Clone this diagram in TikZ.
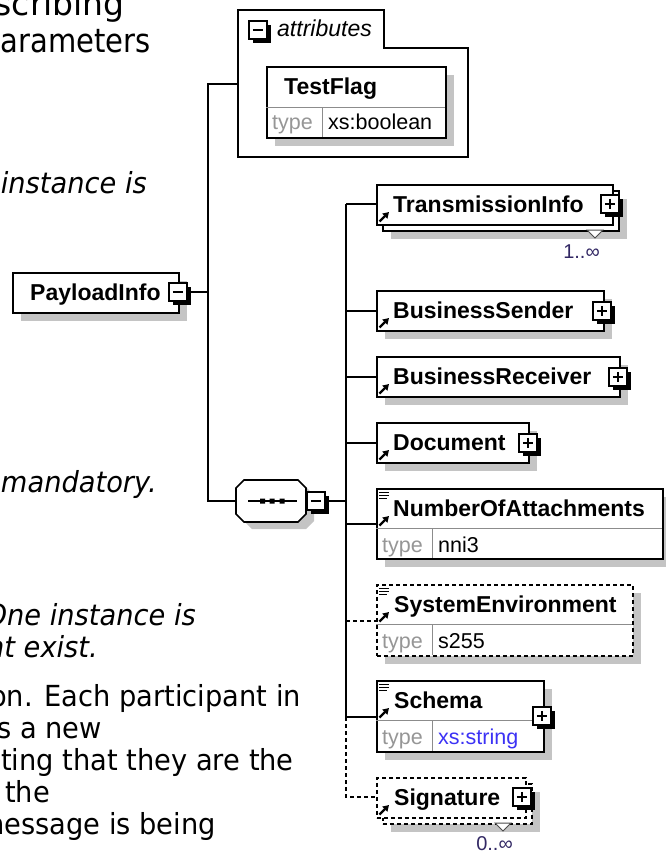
\documentclass[tikz,border=0pt]{standalone}
\usepackage{fontspec}
\setmainfont{DejaVu Sans}
\newfontfamily\bodyfont[FakeStretch=0.94]{DejaVu Sans}
\newfontfamily\headfont[FakeStretch=0.88]{DejaVu Sans}
\newfontfamily\headwide{DejaVu Sans}
\newfontfamily\labfont{Liberation Sans}
\usetikzlibrary{shadows,arrows.meta}
\definecolor{shgray}{RGB}{196,196,196}
\definecolor{typegray}{RGB}{150,150,150}
\definecolor{occcol}{RGB}{50,40,100}
\definecolor{strblue}{RGB}{60,50,245}
\definecolor{divgray}{RGB}{140,140,140}
\tikzset{
  body/.style={font=\bodyfont\fontsize{29bp}{34bp}\selectfont, anchor=base east, inner sep=0pt},
  bodyit/.style={font=\bodyfont\itshape\fontsize{29bp}{34bp}\selectfont, anchor=base east, inner sep=0pt},
  head/.style={font=\headfont\fontsize{33bp}{38bp}\selectfont, anchor=base east, inner sep=0pt},
  headw/.style={font=\headwide\fontsize{33bp}{38bp}\selectfont, anchor=base east, inner sep=0pt},
  elname/.style={font=\labfont\bfseries\fontsize{23bp}{27bp}\selectfont, anchor=base west, inner sep=0pt},
  grpname/.style={font=\labfont\itshape\fontsize{23bp}{27bp}\selectfont, anchor=base west, inner sep=0pt},
  rowtxt/.style={font=\labfont\fontsize{21.5bp}{25bp}\selectfont, anchor=base west, inner sep=0pt},
  typetxt/.style={rowtxt, text=typegray},
  occtxt/.style={font=\labfont\fontsize{20bp}{24bp}\selectfont, anchor=base east, inner sep=0pt, text=occcol},
  elbox/.style={draw, fill=white, line width=1.6bp, rectangle, inner sep=0pt, anchor=north west},
  optbox/.style={elbox, dash pattern=on 4bp off 3bp},
  shad/.style={drop shadow={shadow xshift=8bp, shadow yshift=-8bp, fill=shgray, opacity=1}},
  pm/.style={draw, fill=white, line width=1.6bp, minimum size=18bp, inner sep=0pt, anchor=north west,
    drop shadow={shadow xshift=4bp, shadow yshift=-4bp, fill=black, opacity=1}},
  minusbox/.style={pm, path picture={\draw[line width=1.4bp] ([xshift=4bp]path picture bounding box.west) -- ([xshift=-4bp]path picture bounding box.east);}},
  plusbox/.style={pm, path picture={\draw[line width=1.4bp] ([xshift=4bp]path picture bounding box.west) -- ([xshift=-4bp]path picture bounding box.east) ([yshift=-4bp]path picture bounding box.north) -- ([yshift=4bp]path picture bounding box.south);}},
  conn/.style={line width=1.6bp},
  dconn/.style={line width=1.6bp, dash pattern=on 4bp off 3bp},
  elarrow/.style={line width=2.2bp, -{Triangle[length=6bp,width=7bp]}},
  divider/.style={draw=divgray, line width=1bp},
  occtri/.style={draw=black!70, fill=white, line width=1bp},
  lines3/.style={line width=1bp}
}
\begin{document}
\begin{tikzpicture}[x=1bp,y=-1bp]
\useasboundingbox (0,0) rectangle (666,853);
\clip (0,0) rectangle (666,853);

% ---------- left text ----------
\node[headw] (h1) at (125,15) {scribing};
\node[head] (h2) at (151,52) {arameters};
\node[bodyit] (t3) at (147,193) {instance is};
\node[bodyit] (t4) at (157,492) {mandatory.};
\node[bodyit] (t5) at (196,625) {One instance is};
\node[bodyit] (t6) at (98,657) {nt exist.};
\node[body] (t7) at (301,706) {on. Each participant in};
\node[body] (t8) at (102,738) {s a new};
\node[body, anchor=base west] (t9) at (1,770) {ting that they are the};
\node[body] (t10) at (50,802) {the};
\node[body] (t11) at (216,834) {nessage is being};

% ---------- attributes group ----------
\draw[line width=1.6bp, fill=white] (238,10) -- (384,10) -- (384,48) -- (468,48) -- (468,157) -- (238,157) -- cycle;
\coordinate (attrW) at (238,84);
\node[minusbox] (attrpm) at (248,20) {};
\node[grpname] (attrlbl) at (277,36) {attributes};

\node[elbox, shad, minimum width=179bp, minimum height=71bp] (tf) at (266,66) {};
\draw[divider] (266,107) -- (445,107) (322,107) -- (322,137);
\node[elname] (tflbl) at (284,94) {TestFlag};
\node[typetxt] (tftype) at (272,129) {type};
\node[rowtxt] (tfval) at (328,129) {xs:boolean};

% ---------- PayloadInfo ----------
\node[elbox, shad, minimum width=166bp, minimum height=40bp] (pl) at (12,272) {};
\node[elname] (pllbl) at (30,300) {PayloadInfo};
\node[minusbox] (plpm) at (168,282) {};

% ---------- sequence compositor ----------
\fill[shgray] (252,487) -- (306,487) -- (314,495) -- (314,521) -- (306,529) -- (252,529) -- (244,521) -- (244,495) -- cycle;
\draw[conn, fill=white] (244,480) -- (298,480) -- (306,488) -- (306,514) -- (298,522) -- (244,522) -- (236,514) -- (236,488) -- cycle;
\node[inner sep=0pt, minimum width=70bp, minimum height=42bp, anchor=north west] (comp) at (236,480) {};
\draw[conn] (248,501) -- (297,501);
\fill (260,498.5) rectangle (265,503.5) (269.5,498.5) rectangle (274.5,503.5) (279.5,498.5) rectangle (284.5,503.5);
\node[minusbox] (comppm) at (306,491) {};

% ---------- left connectors ----------
\coordinate (barA1) at (208,84);
\coordinate (barA2) at (208,501);
\draw[conn] (plpm.east) -- (plpm.east -| barA1);
\draw[conn] (attrW) -- (barA1) -- (barA2) -- (comp.west |- barA2);

% ---------- main bar ----------
\coordinate (barTop) at (346,204);
\coordinate (barSol) at (346,717);
\coordinate (barEnd) at (346,797);
\coordinate (jNoa) at (346,524);
\coordinate (jSe) at (346,621);
\draw[conn] (comppm.east) -- (comppm.east -| barTop);
\draw[conn] (barTop) -- (barSol);

% ---------- TransmissionInfo ----------
\node[elbox, shad, minimum width=236bp, minimum height=40bp] (tiB) at (382,190) {};
\node[elbox, minimum width=236bp, minimum height=40bp] (tiF) at (376,184) {};
\node[elname] (tilbl) at (393,212) {TransmissionInfo};
\node[plusbox] (tipm) at (600,194) {};
\draw[elarrow] (379.5,221.5) -- (389,212);
\draw[occtri] (587,230) -- (603,230) -- (595,238) -- cycle;
\node[occtxt] (tiocc) at (600,258) {1..∞};
\draw[conn] (barTop) -- (barTop -| tiF.west);

% ---------- BusinessSender ----------
\node[elbox, shad, minimum width=227bp, minimum height=40bp] (bs) at (376,290) {};
\node[elname] (bslbl) at (393,318) {BusinessSender};
\node[plusbox] (bspm) at (592,301) {};
\draw[elarrow] (379.5,327.5) -- (389,318);
\draw[conn] (bs.west -| barTop) -- (bs.west);

% ---------- BusinessReceiver ----------
\node[elbox, shad, minimum width=243bp, minimum height=40bp] (br) at (376,356) {};
\node[elname] (brlbl) at (393,384) {BusinessReceiver};
\node[plusbox] (brpm) at (608,367) {};
\draw[elarrow] (379.5,393.5) -- (389,384);
\draw[conn] (br.west -| barTop) -- (br.west);

% ---------- Document ----------
\node[elbox, shad, minimum width=152bp, minimum height=40bp] (doc) at (376,422) {};
\node[elname] (doclbl) at (393,450) {Document};
\node[plusbox] (docpm) at (518,433) {};
\draw[elarrow] (379.5,459.5) -- (389,450);
\draw[conn] (doc.west -| barTop) -- (doc.west);

% ---------- NumberOfAttachments ----------
\node[elbox, shad, minimum width=286bp, minimum height=70bp] (noa) at (376,488) {};
\draw[divider] (376,528) -- (662,528) (432,528) -- (432,558);
\draw[lines3] (379,492.5) -- (389,492.5) (379,495.5) -- (389,495.5) (379,498.5) -- (387,498.5);
\node[elname] (noalbl) at (393,516) {NumberOfAttachments};
\draw[elarrow] (379.5,525.5) -- (389,516);
\node[typetxt] (noatype) at (382,552) {type};
\node[rowtxt] (noaval) at (438,552) {nni3};
\draw[conn] (jNoa) -- (jNoa -| noa.west);

% ---------- SystemEnvironment ----------
\node[optbox, shad, minimum width=256bp, minimum height=71bp] (se) at (376,584) {};
\draw[divider] (376,624) -- (632,624) (432,624) -- (432,655);
\draw[lines3] (379,588.5) -- (389,588.5) (379,591.5) -- (389,591.5) (379,594.5) -- (387,594.5);
\node[elname] (selbl) at (394,612) {SystemEnvironment};
\draw[elarrow] (379.5,621.5) -- (389,612);
\node[typetxt] (setype) at (382,648) {type};
\node[rowtxt] (seval) at (438,648) {s255};
\draw[dconn] (jSe) -- (jSe -| se.west);

% ---------- Schema ----------
\node[elbox, shad, minimum width=167bp, minimum height=71bp] (sch) at (376,680) {};
\draw[divider] (376,720) -- (543,720) (432,720) -- (432,751);
\draw[lines3] (379,684.5) -- (389,684.5) (379,687.5) -- (389,687.5) (379,690.5) -- (387,690.5);
\node[elname] (schlbl) at (394,708) {Schema};
\draw[elarrow] (379.5,717.5) -- (389,708);
\node[typetxt] (schtype) at (382,744) {type};
\node[rowtxt, text=strblue] (schval) at (438,744) {xs:string};
\node[plusbox] (schpm) at (532,706) {};
\draw[conn] (barSol) -- (barSol -| sch.west);

% ---------- Signature ----------
\node[optbox, shad, minimum width=149bp, minimum height=40bp] (sigB) at (382,783) {};
\node[optbox, minimum width=149bp, minimum height=40bp] (sigF) at (376,777) {};
\node[elname] (siglbl) at (394,805) {Signature};
\node[plusbox] (sigpm) at (512,787) {};
\draw[elarrow] (379.5,814.5) -- (389,805);
\draw[occtri] (495,823) -- (511,823) -- (503,831) -- cycle;
\node[occtxt] (sigocc) at (513,850) {0..∞};
\draw[dconn] (barSol) -- (barEnd) -- (barEnd -| sigF.west);
\end{tikzpicture}
\end{document}
